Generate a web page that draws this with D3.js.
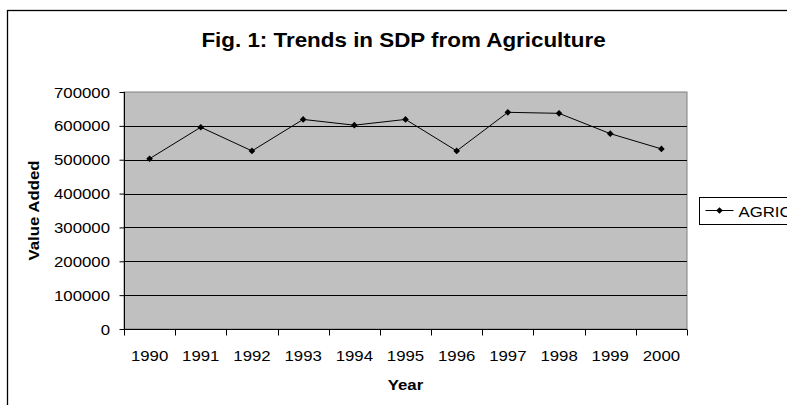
<!DOCTYPE html>
<html>
  <head>
    <title>Trends in SDP from Agriculture</title>
    <script src="https://d3js.org/d3.v7.min.js"></script>
    <style>
      body { margin: 0; background: #fff; }
      text { font-family: "Liberation Sans", Arial, sans-serif; fill: #000; }
      .tick-label { font-size: 15px; }
      .title { font-size: 20px; font-weight: bold; }
      .axis-title { font-size: 15px; font-weight: bold; }
    </style>
  </head>
  <body>
    <svg width="787" height="405"></svg>
    <script>
      const years = ["1990", "1991", "1992", "1993", "1994", "1995", "1996", "1997", "1998", "1999", "2000"];
      const agric = [503000, 596000, 526000, 619000, 602000, 619000, 526000, 640000, 637000, 577000, 532000];
      const yTicks = [0, 100000, 200000, 300000, 400000, 500000, 600000, 700000];

      const plotLeft = 124;
      const plotRight = 687;
      const plotTop = 92;
      const plotBottom = 329;
      // the source font is a little wider than Liberation Sans
      const stretch = 1.12;
      const place = (px, py) => `translate(${px},${py}) scale(${stretch},1)`;

      const svg = d3.select("svg");

      // outer chart frame, runs off the right and bottom edge
      svg.append("rect")
          .attr("x", 7.5).attr("y", 10.5)
          .attr("width", 820).attr("height", 440)
          .attr("fill", "none").attr("stroke", "#000").attr("stroke-width", 1.3);

      const x = d3.scaleBand().domain(years).range([plotLeft, plotRight]);
      const y = d3.scaleLinear().domain([0, 700000]).range([plotBottom, plotTop]);

      svg.append("rect")
          .attr("x", plotLeft).attr("y", plotTop)
          .attr("width", plotRight - plotLeft).attr("height", plotBottom - plotTop)
          .attr("fill", "#c0c0c0").attr("stroke", "#808080");

      // gridlines
      svg.append("g").selectAll("line")
        .data(yTicks.slice(1, -1))
        .join("line")
          .attr("x1", plotLeft).attr("x2", plotRight)
          .attr("y1", d => Math.round(y(d)) + 0.5).attr("y2", d => Math.round(y(d)) + 0.5)
          .attr("stroke", "#000");

      // y axis (ticks from d3, labels placed by hand so they can be widened)
      const yAxis = svg.append("g")
          .attr("transform", `translate(${plotLeft + 0.5},0)`)
          .call(d3.axisLeft(y).tickValues(yTicks).tickFormat("").tickSize(5));
      yAxis.select(".domain").attr("d", `M0,${plotTop}V${plotBottom}`);
      svg.append("g").selectAll("text")
        .data(yTicks)
        .join("text")
          .attr("class", "tick-label")
          .attr("text-anchor", "end")
          .attr("transform", d => place(110, y(d) + 5.5))
          .text(d => d);

      // x axis: ticks at category boundaries
      const xAxisG = svg.append("g")
          .attr("transform", `translate(0,${plotBottom + 0.5})`);
      xAxisG.append("line")
          .attr("x1", plotLeft).attr("x2", plotRight)
          .attr("stroke", "#000");
      xAxisG.selectAll(".xtick")
        .data(years.concat(["end"]))
        .join("line")
          .attr("class", "xtick")
          .attr("x1", (d, i) => Math.round(plotLeft + i * x.step()) + 0.5)
          .attr("x2", (d, i) => Math.round(plotLeft + i * x.step()) + 0.5)
          .attr("y1", 0).attr("y2", 6)
          .attr("stroke", "#000");
      xAxisG.selectAll(".xlabel")
        .data(years)
        .join("text")
          .attr("class", "tick-label xlabel")
          .attr("text-anchor", "middle")
          .attr("transform", d => place(x(d) + x.bandwidth() / 2, 31))
          .text(d => d);

      // series
      const line = d3.line()
        .x((d, i) => x(years[i]) + x.bandwidth() / 2)
        .y(d => y(d));
      svg.append("path")
          .datum(agric)
          .attr("d", line)
          .attr("fill", "none").attr("stroke", "#000").attr("stroke-width", 1);

      const diamond = d3.symbol().type(d3.symbolDiamond2).size(28);
      svg.append("g").selectAll("path")
        .data(agric)
        .join("path")
          .attr("transform", (d, i) => `translate(${x(years[i]) + x.bandwidth() / 2},${y(d)})`)
          .attr("d", diamond)
          .attr("fill", "#000");

      // titles
      svg.append("text")
          .attr("class", "title")
          .attr("text-anchor", "middle")
          .attr("transform", place(403.5, 46.5))
          .text("Fig. 1: Trends in SDP from Agriculture");

      svg.append("text")
          .attr("class", "axis-title")
          .attr("text-anchor", "middle")
          .attr("transform", place((plotLeft + plotRight) / 2, 390))
          .text("Year");

      svg.append("text")
          .attr("class", "axis-title")
          .attr("text-anchor", "middle")
          .attr("transform", `translate(39,${(plotTop + plotBottom) / 2}) rotate(-90) scale(${stretch},1)`)
          .text("Value Added");

      // legend, clipped by the right edge
      const legend = svg.append("g").attr("transform", "translate(699.5,197.5)");
      legend.append("rect")
          .attr("width", 120).attr("height", 27)
          .attr("fill", "#fff").attr("stroke", "#000");
      legend.append("line")
          .attr("x1", 6).attr("x2", 34).attr("y1", 13).attr("y2", 13)
          .attr("stroke", "#000");
      legend.append("path")
          .attr("transform", "translate(20,13)")
          .attr("d", diamond)
          .attr("fill", "#000");
      legend.append("text")
          .attr("class", "tick-label")
          .attr("transform", place(39, 19))
          .text("AGRIC");
    </script>
  </body>
</html>
